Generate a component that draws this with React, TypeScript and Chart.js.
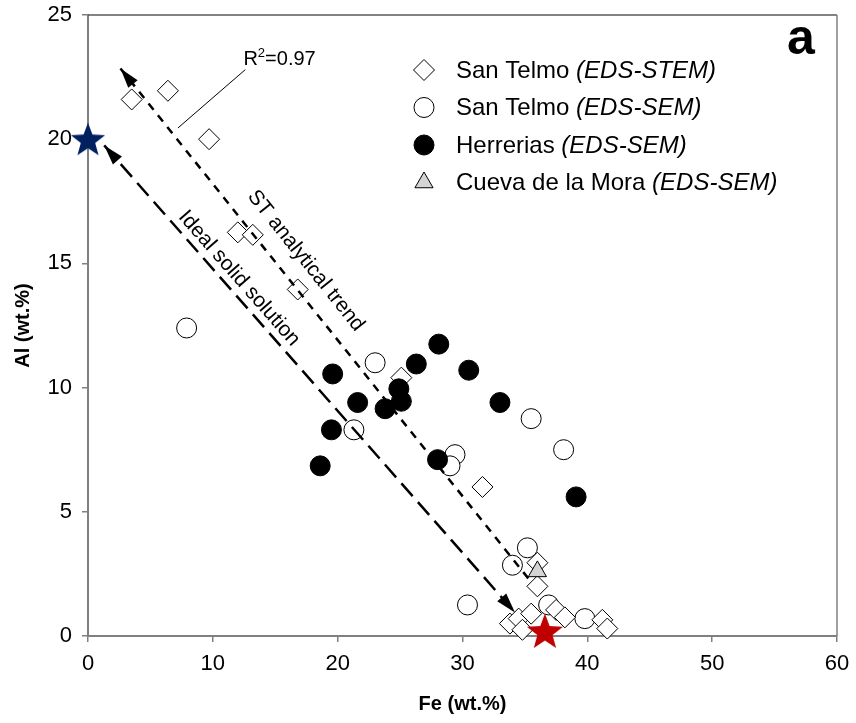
import React, { useEffect, useRef } from 'react';
import { Chart, registerables } from 'chart.js';

Chart.register(...registerables);

const FONT = '"Liberation Sans", Arial, Helvetica, sans-serif';

// ---- axis ticks ----
const xTickValues = [0, 10, 20, 30, 40, 50, 60];
const yTickValues = [0, 5, 10, 15, 20, 25];

// ---- San Telmo (EDS-STEM) ----
const stemFe = [3.5, 6.4, 9.7, 12.0, 13.2, 16.8, 25.1, 31.6, 36.0, 36.0, 33.8, 34.5, 34.8, 35.5, 37.5, 38.2, 41.2, 41.6];
const stemAl = [21.6, 21.95, 20.0, 16.25, 16.15, 13.95, 10.4, 6.0, 2.95, 2.0, 0.5, 0.7, 0.25, 0.9, 1.05, 0.75, 0.65, 0.3];

// ---- San Telmo (EDS-SEM) ----
const semFe = [7.9, 23.0, 21.3, 35.5, 38.1, 29.4, 29.0, 35.2, 34.0, 30.4, 36.9, 39.8];
const semAl = [12.4, 11.0, 8.3, 8.75, 7.5, 7.3, 6.85, 3.55, 2.85, 1.25, 1.25, 0.7];

// ---- Herrerias (EDS-SEM) ----
const herFe = [28.1, 26.3, 19.6, 30.5, 24.9, 21.6, 25.1, 23.8, 33.0, 19.5, 28.0, 18.6, 39.1];
const herAl = [11.75, 10.95, 10.55, 10.7, 9.95, 9.4, 9.45, 9.15, 9.4, 8.3, 7.1, 6.85, 5.6];

// ---- Cueva de la Mora (EDS-SEM) ----
const moraFe = [36.0];
const moraAl = [2.6];

// ---- end members (stars) ----
const alEndFe = [0];
const alEndAl = [20.0];
const feEndFe = [36.6];
const feEndAl = [0.2];

// ---- lines ----
const idealFe = [1.3, 34.2];
const idealAl = [19.75, 0.95];
const trendFe = [2.6, 35.3];
const trendAl = [22.85, 2.3];
const leaderFe = [12.6, 7.2];
const leaderAl = [22.8, 20.45];

// ---- annotation text ----
const r2Text = 'R';
const r2Sup = '2';
const r2Value = '=0.97';
const r2Fe = 12.45;
const r2Al = 23.0;
const trendLabel = 'ST analytical trend';
const trendLabelFe = 17.45;
const trendLabelAl = 15.1;
const idealLabel = 'Ideal solid solution';
const idealLabelFe = 12.1;
const idealLabelAl = 14.4;
const panelLetter = 'a';

// ---- legend ----
const legendNames = ['San Telmo ', 'San Telmo ', 'Herrerias ', 'Cueva de la Mora '];
const legendMethods = ['(EDS-STEM)', '(EDS-SEM)', '(EDS-SEM)', '(EDS-SEM)'];
const legendShapes = ['diamond', 'open', 'filled', 'triangle'];

const xTitle = 'Fe (wt.%)';
const yTitle = 'Al (wt.%)';

function pts(xs: number[], ys: number[]) {
  return xs.map((x, i) => ({ x, y: ys[i] }));
}

function makeStar(color: string, R: number) {
  const s = Math.ceil(R * 2 + 4);
  const c = document.createElement('canvas');
  c.width = s;
  c.height = s;
  const ctx = c.getContext('2d')!;
  const cx = s / 2;
  const cy = s / 2 + R * 0.08;
  const r = R * 0.42;
  ctx.beginPath();
  for (let i = 0; i < 10; i++) {
    const ang = -Math.PI / 2 + (i * Math.PI) / 5;
    const rr = i % 2 === 0 ? R : r;
    ctx.lineTo(cx + rr * Math.cos(ang), cy + rr * Math.sin(ang));
  }
  ctx.closePath();
  ctx.fillStyle = color;
  ctx.fill();
  return c;
}

function drawMarker(ctx: CanvasRenderingContext2D, shape: string, x: number, y: number) {
  ctx.save();
  ctx.lineWidth = 1;
  ctx.strokeStyle = '#000';
  ctx.beginPath();
  if (shape === 'diamond') {
    const r = 10.5;
    ctx.moveTo(x, y - r);
    ctx.lineTo(x + r, y);
    ctx.lineTo(x, y + r);
    ctx.lineTo(x - r, y);
    ctx.closePath();
    ctx.fillStyle = '#fff';
  } else if (shape === 'open') {
    ctx.arc(x, y, 10, 0, Math.PI * 2);
    ctx.fillStyle = '#fff';
  } else if (shape === 'filled') {
    ctx.arc(x, y, 10, 0, Math.PI * 2);
    ctx.fillStyle = '#000';
  } else {
    const r = 10.5;
    ctx.moveTo(x, y - r);
    ctx.lineTo(x + r * 0.866, y + r * 0.5);
    ctx.lineTo(x - r * 0.866, y + r * 0.5);
    ctx.closePath();
    ctx.fillStyle = '#d4d4d4';
  }
  ctx.fill();
  ctx.stroke();
  ctx.restore();
}

function arrowHead(ctx: CanvasRenderingContext2D, tipX: number, tipY: number, fromX: number, fromY: number) {
  const ang = Math.atan2(tipY - fromY, tipX - fromX);
  const len = 20;
  const hw = 6;
  ctx.save();
  ctx.translate(tipX, tipY);
  ctx.rotate(ang);
  ctx.beginPath();
  ctx.moveTo(0, 0);
  ctx.lineTo(-len, -hw);
  ctx.lineTo(-len, hw);
  ctx.closePath();
  ctx.fillStyle = '#000';
  ctx.fill();
  ctx.restore();
}

const decorPlugin = {
  id: 'decor',
  beforeDatasetsDraw(chart: any) {
    const { ctx, chartArea: a } = chart;
    ctx.save();
    ctx.strokeStyle = '#5a5a5a';
    ctx.lineWidth = 1.5;
    ctx.beginPath();
    ctx.moveTo(a.left, a.top);
    ctx.lineTo(a.right, a.top);
    ctx.stroke();
    ctx.strokeStyle = '#808080';
    ctx.beginPath();
    ctx.moveTo(a.right, a.top);
    ctx.lineTo(a.right, a.bottom);
    ctx.stroke();
    ctx.restore();
  },
  afterDatasetsDraw(chart: any) {
    const { ctx } = chart;
    const sx = chart.scales.x;
    const sy = chart.scales.y;
    const px = (v: number) => sx.getPixelForValue(v);
    const py = (v: number) => sy.getPixelForValue(v);

    // arrowheads
    arrowHead(ctx, px(idealFe[0]), py(idealAl[0]), px(idealFe[1]), py(idealAl[1]));
    arrowHead(ctx, px(idealFe[1]), py(idealAl[1]), px(idealFe[0]), py(idealAl[0]));
    arrowHead(ctx, px(trendFe[0]), py(trendAl[0]), px(trendFe[1]), py(trendAl[1]));

    // rotated labels along lines
    const along = (text: string, cx: number, cy: number, xs: number[], ys: number[]) => {
      const ang = Math.atan2(py(ys[1]) - py(ys[0]), px(xs[1]) - px(xs[0]));
      ctx.save();
      ctx.translate(px(cx), py(cy));
      ctx.rotate(ang);
      ctx.font = `21px ${FONT}`;
      ctx.fillStyle = '#000';
      ctx.textAlign = 'center';
      ctx.textBaseline = 'middle';
      ctx.fillText(text, 0, 0);
      ctx.restore();
    };
    along(trendLabel, trendLabelFe, trendLabelAl, trendFe, trendAl);
    along(idealLabel, idealLabelFe, idealLabelAl, idealFe, idealAl);

    // R2 label
    ctx.save();
    ctx.fillStyle = '#000';
    ctx.textBaseline = 'alphabetic';
    ctx.textAlign = 'left';
    let x = px(r2Fe);
    const y = py(r2Al);
    ctx.font = `20px ${FONT}`;
    ctx.fillText(r2Text, x, y);
    x += ctx.measureText(r2Text).width;
    ctx.font = `13px ${FONT}`;
    ctx.fillText(r2Sup, x, y - 8);
    x += ctx.measureText(r2Sup).width;
    ctx.font = `20px ${FONT}`;
    ctx.fillText(r2Value, x, y);
    ctx.restore();

    // legend
    const lx = 424;
    const tx = 456;
    const rows = [70, 107.5, 145, 182.5];
    ctx.save();
    ctx.fillStyle = '#000';
    ctx.textBaseline = 'middle';
    ctx.textAlign = 'left';
    legendNames.forEach((name, i) => {
      drawMarker(ctx, legendShapes[i], lx, rows[i]);
      ctx.font = `24px ${FONT}`;
      ctx.fillText(name, tx, rows[i] + 1);
      const w = ctx.measureText(name).width;
      ctx.font = `italic 24px ${FONT}`;
      ctx.fillText(legendMethods[i], tx + w, rows[i] + 1);
    });
    ctx.font = `bold 50px ${FONT}`;
    ctx.textBaseline = 'alphabetic';
    ctx.fillText(panelLetter, 787, 54);
    ctx.restore();
  },
};

export default function App() {
  const ref = useRef<HTMLCanvasElement | null>(null);

  useEffect(() => {
    if (!ref.current) return;
    const blueStar = makeStar('#002060', 18);
    const redStar = makeStar('#c00000', 19);

    const axisCommon = {
      type: 'linear' as const,
      grid: {
        display: true,
        drawOnChartArea: false,
        drawTicks: true,
        tickLength: 6,
        color: '#808080',
        lineWidth: 1.5,
      },
      border: { display: true, color: '#808080', width: 2 },
    };

    const chart = new Chart(ref.current, {
      type: 'scatter',
      data: {
        datasets: [
          {
            label: 'San Telmo (EDS-SEM)',
            data: pts(semFe, semAl),
            pointStyle: 'circle',
            pointRadius: 10,
            backgroundColor: '#fff',
            borderColor: '#000',
            borderWidth: 1,
            order: 6,
            clip: false,
          },
          {
            label: 'San Telmo (EDS-STEM)',
            data: pts(stemFe, stemAl),
            pointStyle: 'rectRot',
            pointRadius: 10.5,
            backgroundColor: '#fff',
            borderColor: '#000',
            borderWidth: 1,
            order: 5,
            clip: false,
          },
          {
            label: 'Herrerias (EDS-SEM)',
            data: pts(herFe, herAl),
            pointStyle: 'circle',
            pointRadius: 10,
            backgroundColor: '#000',
            borderColor: '#000',
            borderWidth: 1,
            order: 4,
            clip: false,
          },
          {
            label: 'Cueva de la Mora (EDS-SEM)',
            data: pts(moraFe, moraAl),
            pointStyle: 'triangle',
            pointRadius: 10.5,
            backgroundColor: '#d4d4d4',
            borderColor: '#000',
            borderWidth: 1,
            order: 3,
            clip: false,
          },
          {
            label: 'ST analytical trend',
            data: pts(trendFe, trendAl),
            showLine: true,
            pointRadius: 0,
            borderColor: '#000',
            borderWidth: 2.5,
            borderDash: [8, 7],
            order: 2,
            clip: false,
          },
          {
            label: 'Ideal solid solution',
            data: pts(idealFe, idealAl),
            showLine: true,
            pointRadius: 0,
            borderColor: '#000',
            borderWidth: 2.5,
            borderDash: [17, 8],
            order: 2,
            clip: false,
          },
          {
            label: 'R2 leader',
            data: pts(leaderFe, leaderAl),
            showLine: true,
            pointRadius: 0,
            borderColor: '#000',
            borderWidth: 1,
            order: 2,
            clip: false,
          },
          {
            label: 'Al end member',
            data: pts(alEndFe, alEndAl),
            pointStyle: blueStar,
            order: 1,
            clip: false,
          },
          {
            label: 'Fe end member',
            data: pts(feEndFe, feEndAl),
            pointStyle: redStar,
            order: 1,
            clip: false,
          },
        ] as any,
      },
      options: {
        animation: false,
        responsive: false,
        maintainAspectRatio: false,
        layout: { padding: { top: 15, right: 19, left: 0, bottom: 0 } },
        plugins: {
          legend: { display: false },
          tooltip: { enabled: false },
        },
        scales: {
          x: {
            ...axisCommon,
            position: 'bottom',
            min: xTickValues[0],
            max: xTickValues[xTickValues.length - 1],
            afterBuildTicks: (s: any) => {
              s.ticks = xTickValues.map((v) => ({ value: v }));
            },
            afterFit: (s: any) => {
              s.height = 87;
              s.paddingLeft = 0;
              s.paddingRight = 0;
            },
            ticks: {
              font: { family: FONT, size: 22 },
              color: '#000',
              padding: 9,
              maxRotation: 0,
            },
            title: {
              display: true,
              text: xTitle,
              color: '#000',
              font: { family: FONT, size: 20, weight: 'bold' },
              padding: { top: 0, bottom: 7 },
            },
          },
          y: {
            ...axisCommon,
            position: 'left',
            min: yTickValues[0],
            max: yTickValues[yTickValues.length - 1],
            afterBuildTicks: (s: any) => {
              s.ticks = yTickValues.map((v) => ({ value: v }));
            },
            afterFit: (s: any) => {
              s.width = 88;
              s.paddingTop = 0;
              s.paddingBottom = 0;
            },
            ticks: {
              font: { family: FONT, size: 22 },
              color: '#000',
              padding: 10,
            },
            title: {
              display: true,
              text: yTitle,
              color: '#000',
              font: { family: FONT, size: 20, weight: 'bold' },
              padding: { top: 11, bottom: 0 },
            },
          },
        } as any,
      },
      plugins: [decorPlugin],
    });
    return () => chart.destroy();
  }, []);

  return (
    <div style={{ position: 'fixed', left: 0, top: 0, width: 856, height: 723, background: '#fff' }}>
      <canvas ref={ref} width={856} height={723} style={{ width: 856, height: 723, display: 'block' }} />
    </div>
  );
}
